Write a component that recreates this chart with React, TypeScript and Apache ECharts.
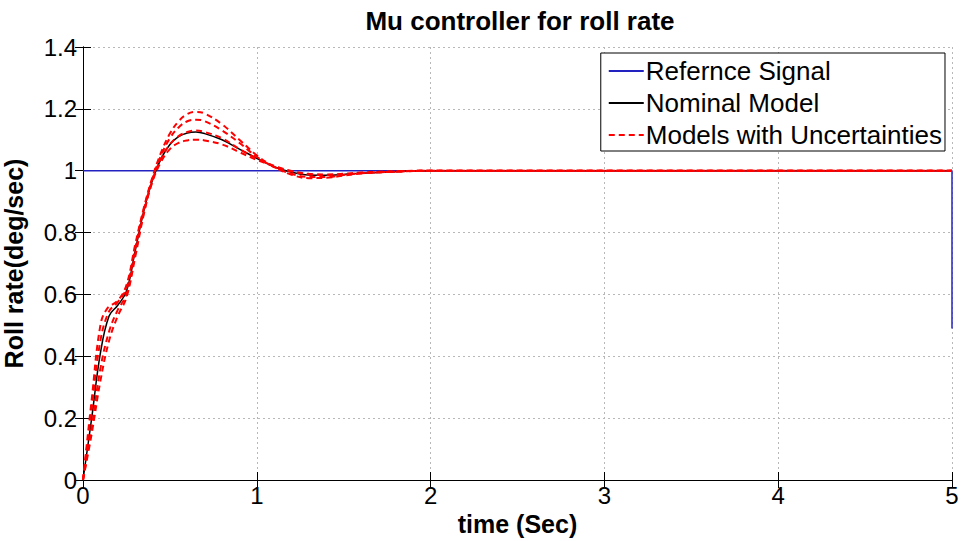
import React, { useEffect, useRef } from "react";
import * as echarts from "echarts";

const xTicks = [0, 1, 2, 3, 4, 5];
const yTicks = [0, 0.2, 0.4, 0.6, 0.8, 1, 1.2, 1.4];

const referenceSignal: [number, number][] = [
  [0, 1], [5, 1], [5, 0.49],
];

const nominalModel: [number, number][] = [
  [0, 0], [0.05, 0.2], [0.1, 0.41], [0.15, 0.53], [0.2, 0.565], [0.25, 0.61],
  [0.3, 0.74], [0.35, 0.87], [0.4, 0.97], [0.45, 1.04], [0.5, 1.085], [0.55, 1.11],
  [0.6, 1.122], [0.65, 1.125], [0.7, 1.12], [0.8, 1.1], [0.9, 1.07], [1.0, 1.04],
  [1.1, 1.013], [1.2, 0.995], [1.3, 0.986], [1.4, 0.985], [1.5, 0.988], [1.6, 0.992],
  [1.8, 0.997], [2.0, 1.0], [5, 1.0],
];

const uncertain1: [number, number][] = [
  [0, 0], [0.05, 0.26], [0.1, 0.5], [0.14, 0.555], [0.2, 0.58], [0.25, 0.63],
  [0.3, 0.76], [0.35, 0.88], [0.4, 0.98], [0.45, 1.06], [0.5, 1.12], [0.55, 1.16],
  [0.6, 1.183], [0.65, 1.19], [0.7, 1.185], [0.8, 1.15], [0.9, 1.1], [1.0, 1.05],
  [1.1, 1.012], [1.2, 0.987], [1.3, 0.976], [1.4, 0.977], [1.5, 0.984], [1.6, 0.991],
  [1.8, 0.997], [2.0, 1.0], [5, 1.0],
];

const uncertain2: [number, number][] = [
  [0, 0], [0.05, 0.23], [0.1, 0.45], [0.15, 0.545], [0.2, 0.575], [0.25, 0.62],
  [0.3, 0.75], [0.35, 0.875], [0.4, 0.975], [0.45, 1.05], [0.5, 1.105], [0.55, 1.14],
  [0.6, 1.16], [0.65, 1.165], [0.7, 1.16], [0.8, 1.13], [0.9, 1.09], [1.0, 1.045],
  [1.1, 1.012], [1.2, 0.99], [1.3, 0.98], [1.4, 0.98], [1.5, 0.986], [1.6, 0.992],
  [1.8, 0.997], [2.0, 1.0], [5, 1.0],
];

const uncertain3: [number, number][] = [
  [0, 0], [0.05, 0.17], [0.1, 0.36], [0.15, 0.48], [0.2, 0.55], [0.25, 0.6],
  [0.3, 0.73], [0.35, 0.865], [0.4, 0.97], [0.45, 1.04], [0.5, 1.085], [0.55, 1.112],
  [0.6, 1.125], [0.65, 1.13], [0.7, 1.125], [0.8, 1.105], [0.9, 1.07], [1.0, 1.04],
  [1.1, 1.015], [1.2, 0.997], [1.3, 0.988], [1.4, 0.986], [1.5, 0.989], [1.6, 0.993],
  [1.8, 0.998], [2.0, 1.0], [5, 1.0],
];

const uncertain4: [number, number][] = [
  [0, 0], [0.05, 0.15], [0.1, 0.32], [0.15, 0.45], [0.2, 0.53], [0.25, 0.59],
  [0.3, 0.72], [0.35, 0.86], [0.4, 0.965], [0.45, 1.03], [0.5, 1.07], [0.55, 1.09],
  [0.6, 1.098], [0.65, 1.1], [0.7, 1.098], [0.8, 1.085], [0.9, 1.06], [1.0, 1.035],
  [1.1, 1.015], [1.2, 0.999], [1.3, 0.99], [1.4, 0.988], [1.5, 0.99], [1.6, 0.994],
  [1.8, 0.998], [2.0, 1.0], [5, 1.0],
];

const uncertainModels = [uncertain1, uncertain2, uncertain3, uncertain4];

const FONT = "Liberation Sans, Arial, sans-serif";
const BLUE = "#2222c0";

export default function App() {
  const ref = useRef<HTMLDivElement>(null);
  useEffect(() => {
    if (!ref.current) return;
    const chart = echarts.init(ref.current, undefined, { renderer: "svg" });
    const axisLine = { show: true, lineStyle: { color: "#000", width: 1 } };
    const tick = { show: true, inside: true, length: 8, lineStyle: { color: "#000" } };
    const grid = { show: true, lineStyle: { color: "#b8b8b8", type: [2, 3], width: 1 } };
    chart.setOption({
      animation: false,
      backgroundColor: "#fff",
      title: {
        text: "Mu controller for roll rate",
        left: 515,
        textAlign: "center",
        top: 3,
        textStyle: { fontFamily: FONT, fontSize: 26, fontWeight: "bold", color: "#000" },
      },
      grid: { left: 83, right: 12, top: 47, bottom: 61, containLabel: false, outerBoundsMode: "none" },
      legend: {
        orient: "vertical",
        right: 19,
        top: 53,
        backgroundColor: "#fff",
        borderColor: "#000",
        borderWidth: 1,
        borderRadius: 0,
        padding: [5, 3, 3, 7],
        itemGap: 6,
        itemWidth: 35,
        itemHeight: 14,
        align: "left",
        itemStyle: { opacity: 0 },
        textStyle: { fontFamily: FONT, fontSize: 26, lineHeight: 26, color: "#000", padding: [0, 0, 0, -3] },
        data: ["Refernce Signal", "Nominal Model", "Models with Uncertainties"],
      },
      xAxis: [
        {
          type: "value",
          min: 0,
          max: 5,
          interval: 1,
          name: "time (Sec)",
          nameLocation: "middle",
          nameGap: 31,
          nameTextStyle: { fontFamily: FONT, fontSize: 25, fontWeight: "bold", color: "#000" },
          axisLine,
          axisTick: tick,
          axisLabel: {
            fontFamily: FONT,
            fontSize: 24,
            color: "#000",
            margin: 3,
            formatter: (v: number) => {
              const t = xTicks.find((x) => Math.abs(x - v) < 1e-6);
              return String(t !== undefined ? t : v);
            },
          },
          splitLine: grid,
        },
        {
          type: "value",
          position: "top",
          min: 0,
          max: 5,
          interval: 1,
          axisLine,
          axisTick: tick,
          axisLabel: { show: false },
          splitLine: { show: false },
        },
      ],
      yAxis: [
        {
          type: "value",
          min: 0,
          max: 1.4,
          interval: 0.2,
          name: "Roll rate(deg/sec)",
          nameLocation: "middle",
          nameGap: 57,
          nameTextStyle: { fontFamily: FONT, fontSize: 25, fontWeight: "bold", color: "#000" },
          axisLine,
          axisTick: tick,
          axisLabel: {
            fontFamily: FONT,
            fontSize: 24,
            color: "#000",
            margin: 6,
            formatter: (v: number) => {
              const t = yTicks.find((y) => Math.abs(y - v) < 1e-6);
              return String(t !== undefined ? t : v);
            },
          },
          splitLine: grid,
        },
        {
          type: "value",
          position: "right",
          min: 0,
          max: 1.4,
          interval: 0.2,
          axisLine,
          axisTick: tick,
          axisLabel: { show: false },
          splitLine: { show: false },
        },
      ],
      series: [
        {
          name: "Refernce Signal",
          type: "line",
          data: referenceSignal,
          symbol: "none",
          lineStyle: { color: BLUE, width: 1.5 },
          itemStyle: { color: BLUE },
          z: 2,
        },
        {
          name: "Nominal Model",
          type: "line",
          data: nominalModel,
          symbol: "none",
          smooth: 0.4,
          lineStyle: { color: "#000", width: 1.5 },
          itemStyle: { color: "#000" },
          z: 3,
        },
        ...uncertainModels.map((d) => ({
          name: "Models with Uncertainties",
          type: "line",
          data: d,
          symbol: "none",
          smooth: 0.4,
          lineStyle: { color: "#ff0000", width: 2, type: [6, 4] },
          itemStyle: { color: "#ff0000" },
          z: 4,
        })),
      ],
    });
    return () => chart.dispose();
  }, []);
  return <div ref={ref} style={{ width: 964, height: 541, position: "absolute", left: 0, top: 0 }} />;
}
